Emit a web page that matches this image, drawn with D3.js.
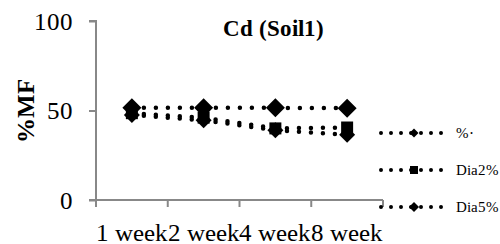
<!DOCTYPE html>
<html>
<head>
<meta charset="utf-8">
<script src="https://cdn.jsdelivr.net/npm/d3@7"></script>
<style>
@font-face { font-family: "ChartSerif"; font-weight: normal; src: local("Liberation Serif"), local("LiberationSerif"), local("Times New Roman"); }
@font-face { font-family: "ChartSerif"; font-weight: bold; src: local("Liberation Serif Bold"), local("LiberationSerif-Bold"), local("Times New Roman Bold"); }
</style>
</head>
<body style="margin:0">
<svg id="c" width="500" height="244" style="font-family: ChartSerif, 'Liberation Serif', serif;"></svg>
<script>
const categories = ["1 week", "2 week", "4 week", "8 week"];
const seriesNames = ["%·", "Dia2%", "Dia5%"];
const seriesPct = [47.5, 44.5, 39, 36.5];
const seriesDia2 = [48.5, 46, 40, 40.5];
const seriesDia5 = [51.5, 51.5, 51.5, 51.3];
const yTicks = [0, 50, 100];
const titleText = "Cd (Soil1)";
const yTitle = "%MF";

const svg = d3.select("#c");
const FONT = 'ChartSerif, "Liberation Serif", "Times New Roman", serif';
function serif(sel) { return sel.style("font-family", FONT); }

const x = d3.scaleBand().domain(categories).range([96, 383]).padding(0);
const y = d3.scaleLinear().domain([0, 100]).range([200, 21]);

const diamond = {
  draw(ctx, size) {
    const r = Math.sqrt(size) / 2;
    ctx.moveTo(0, -r); ctx.lineTo(r, 0); ctx.lineTo(0, r); ctx.lineTo(-r, 0); ctx.closePath();
  }
};
const square = {
  draw(ctx, size) {
    const r = Math.sqrt(size) / 2;
    ctx.rect(-r, -r, 2 * r, 2 * r);
  }
};

const series = [
  { name: seriesNames[0], values: seriesPct, type: diamond, size: 16 * 16, lsize: 9 * 9 },
  { name: seriesNames[1], values: seriesDia2, type: square, size: 12 * 12, lsize: 8 * 8 },
  { name: seriesNames[2], values: seriesDia5, type: diamond, size: 19 * 19, lsize: 10 * 10 }
];

const axisColor = "#888888";
const yAxis = svg.append("g").attr("transform", "translate(96,0)")
  .call(d3.axisLeft(y).tickValues(yTicks).tickSize(7).tickPadding(16));
yAxis.attr("font-family", null).attr("font-size", null);
yAxis.select(".domain").attr("stroke", axisColor).attr("stroke-width", 2).attr("d", "M-7,21H0V200");
yAxis.selectAll(".tick line").attr("stroke", axisColor).attr("stroke-width", 2);
serif(yAxis.selectAll(".tick text")).attr("font-size", 25).attr("fill", "#000");

const xAxis = svg.append("g").attr("transform", "translate(0,200)")
  .call(d3.axisBottom(x).tickSize(0).tickPadding(23));
xAxis.attr("font-family", null).attr("font-size", null);
xAxis.select(".domain").attr("stroke", axisColor).attr("stroke-width", 2).attr("d", "M89,0H383");
serif(xAxis.selectAll(".tick text")).attr("font-size", 25).attr("fill", "#000");
const bounds = categories.map(c => x(c)).concat([x.range()[1]]);
svg.append("g").selectAll("line").data(bounds).join("line")
  .attr("x1", d => d).attr("x2", d => d).attr("y1", 200).attr("y2", 207)
  .attr("stroke", axisColor).attr("stroke-width", 2);

const line = d3.line().x((d, i) => x(categories[i]) + x.bandwidth() / 2).y(d => y(d));
series.forEach(s => {
  svg.append("path").attr("d", line(s.values)).attr("fill", "none")
    .attr("stroke", "#000").attr("stroke-width", 4.5)
    .attr("stroke-linecap", "round").attr("stroke-dasharray", "0,12");
});
series.forEach(s => {
  svg.append("g").selectAll("path").data(s.values).join("path")
    .attr("transform", (d, i) => `translate(${x(categories[i]) + x.bandwidth() / 2},${y(d)})`)
    .attr("d", d3.symbol().type(s.type).size(s.size))
    .attr("fill", "#000");
});

serif(svg.append("text").attr("x", 273).attr("y", 36).attr("text-anchor", "middle"))
  .attr("font-weight", "bold").attr("font-size", 23)
  .text(titleText);

serif(svg.append("text").attr("transform", "translate(34,111) rotate(-90)")
  .attr("text-anchor", "middle"))
  .attr("font-weight", "bold").attr("font-size", 25).text(yTitle);

const legY = [133, 170, 207];
const leg = svg.append("g");
series.forEach((s, i) => {
  const g = leg.append("g").attr("transform", `translate(0,${legY[i]})`);
  g.append("line").attr("x1", 381).attr("x2", 449).attr("y1", 0).attr("y2", 0)
    .attr("stroke", "#000").attr("stroke-width", 4).attr("stroke-linecap", "round")
    .attr("stroke-dasharray", "0,10");
  g.append("path").attr("transform", "translate(414,0)")
    .attr("d", d3.symbol().type(s.type).size(s.lsize)).attr("fill", "#000");
  serif(g.append("text").attr("x", 456).attr("y", 5))
    .attr("font-size", 15).text(s.name);
});
</script>
</body>
</html>
